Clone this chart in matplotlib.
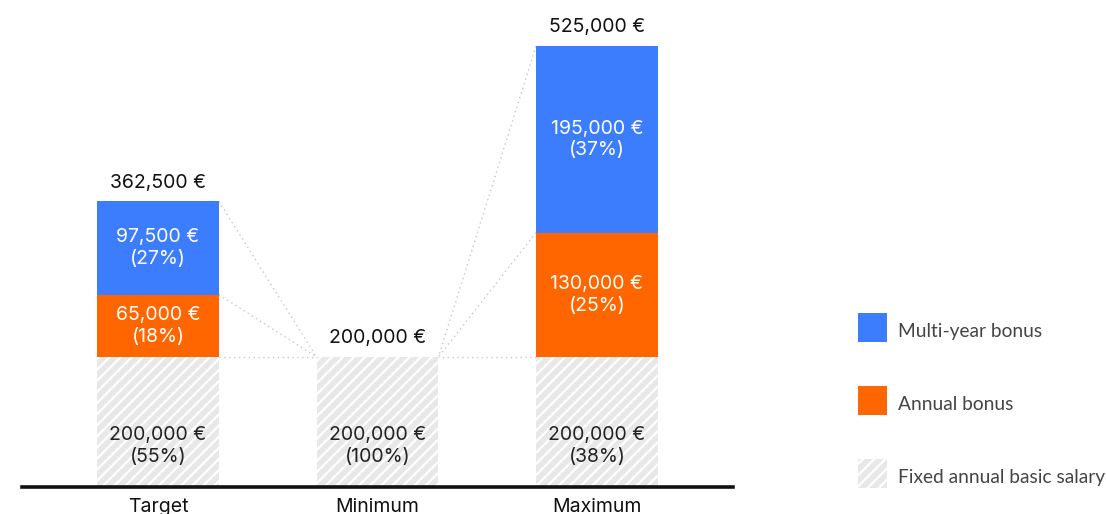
import matplotlib
matplotlib.use('Agg')
import matplotlib.pyplot as plt
from matplotlib.patches import Rectangle
import numpy as np

plt.rcParams['font.family'] = ['Inter', 'DejaVu Sans']
plt.rcParams['hatch.color'] = 'white'
plt.rcParams['hatch.linewidth'] = 1.6

categories = ['Target', 'Minimum', 'Maximum']
fixed_salary = [200000, 200000, 200000]
annual_bonus = [65000, 0, 130000]
multi_year_bonus = [97500, 0, 195000]
legend_labels = ['Multi-year bonus', 'Annual bonus', 'Fixed annual basic salary']

BLUE = '#3b7dfd'
ORANGE = '#ff6600'
GREY = '#e8e8e8'

K = 0.957  # bonus blocks are drawn on a larger scale than the base block


def fwd(y):
    y = np.asarray(y, dtype=float)
    return np.where(y <= 200000, y * 0.65, 130000 + (y - 200000) * K)


def inv(v):
    v = np.asarray(v, dtype=float)
    return np.where(v <= 130000, v / 0.65, 200000 + (v - 130000) / K)


def eur(v):
    return f'{v:,.0f} €'


W, H = 1106, 514
fig = plt.figure(figsize=(W / 100, H / 100), dpi=100)
ax = fig.add_axes([22 / W, 27 / H, (733 - 22) / W, (487 - 10) / H])
ax.set_yscale('function', functions=(fwd, inv))

x = np.arange(len(categories))
w = 0.555
totals = [f + a + m for f, a, m in zip(fixed_salary, annual_bonus, multi_year_bonus)]
bottom_mb = [f + a for f, a in zip(fixed_salary, annual_bonus)]

ax.bar(x, fixed_salary, w, color=GREY, hatch='///', linewidth=0, zorder=2)
ax.bar(x, annual_bonus, w, bottom=fixed_salary, color=ORANGE, linewidth=0, zorder=2)
ax.bar(x, multi_year_bonus, w, bottom=bottom_mb, color=BLUE, linewidth=0, zorder=2)

# dotted connectors from the minimum bar to the neighbours
for i, side in [(0, 1), (2, -1)]:
    xa = x[i] + side * w / 2
    xb = x[1] - side * w / 2
    for level in [fixed_salary[i], bottom_mb[i], totals[i]]:
        ax.plot([xa, xb], [level, fixed_salary[1]], ls=(0, (1, 2.5)), color='#c8c8c8',
                lw=1.0, zorder=1)

for i in range(len(categories)):
    tot = totals[i]
    ax.annotate(eur(tot), (x[i], tot), xytext=(0, 7), textcoords='offset points',
                ha='center', va='bottom', fontsize=14, color='#111111')
    segs = [(fixed_salary[i], 0, '#222222', 0.315), (annual_bonus[i], fixed_salary[i], 'white', 0.5),
            (multi_year_bonus[i], bottom_mb[i], 'white', 0.5)]
    for val, b, col, frac in segs:
        if val == 0:
            continue
        pos = inv(fwd(b) + frac * (fwd(b + val) - fwd(b)))
        ax.text(x[i], pos, f'{eur(val)}\n({val / tot:.0%})', ha='center', va='center',
                fontsize=14, color=col, linespacing=1.25, zorder=3)

ax.set_xlim(-0.62, 2.62)
ax.set_ylim(0, 562600)
ax.set_yticks([])
ax.set_xticks(x)
ax.set_xticklabels(categories, fontsize=14, color='#111111')
ax.tick_params(axis='x', length=0, pad=8)
for s in ['top', 'right', 'left']:
    ax.spines[s].set_visible(False)
ax.spines['bottom'].set_linewidth(2.6)
ax.spines['bottom'].set_color('#111111')

# legend drawn by hand so the swatches get the right size
swatches = [dict(facecolor=BLUE), dict(facecolor=ORANGE), dict(facecolor=GREY, hatch='///')]
for k, (lab, sw) in enumerate(zip(legend_labels, swatches)):
    top = 313 + k * 73
    fig.patches.append(Rectangle((858 / W, 1 - (top + 29) / H), 29 / W, 29 / H,
                                 transform=fig.transFigure, linewidth=0, **sw))
    fig.text(898 / W, 1 - (top + 18) / H, lab, ha='left', va='center',
             fontsize=13.8, family='Lato', color='#444444')

fig.savefig('out.png', dpi=100)
